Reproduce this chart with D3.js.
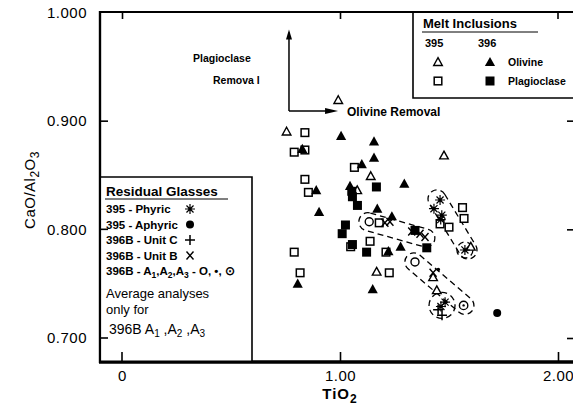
<!DOCTYPE html>
<html><head><meta charset="utf-8">
<script src="https://cdn.jsdelivr.net/npm/d3@7"></script>
<style>body{margin:0;background:#fff}svg{display:block}</style>
</head><body><svg id="c" width="573" height="410"></svg>
<script>
// ---------- data ----------
const xTicks = [0, 1, 2];
const xTickLabels = ["0", "1.00", "2.00"];
const yTicks = [0.7, 0.8, 0.9, 1.0];
const yTickLabels = ["0.700", "0.800", "0.900", "1.000"];

// Melt inclusions [TiO2, CaO/Al2O3]
const mi395Olivine = [[0.755,0.890],[0.992,0.919],[1.141,0.849],[1.079,0.836],[1.477,0.868],[1.168,0.761],[1.600,0.784],[1.427,0.756],[1.444,0.744]];
const mi395Plagioclase = [[0.839,0.889],[0.790,0.871],[0.839,0.873],[0.839,0.846],[0.855,0.834],[1.066,0.857],[0.790,0.779],[0.817,0.760],[1.180,0.806],[1.138,0.789],[1.049,0.784],[1.226,0.760],[1.211,0.779],[1.459,0.805],[1.500,0.802],[1.562,0.820],[1.569,0.810]];
const mi396Olivine = [[1.005,0.886],[1.156,0.881],[0.827,0.874],[1.156,0.866],[1.100,0.860],[1.295,0.842],[0.891,0.836],[1.046,0.840],[0.904,0.816],[1.171,0.819],[1.238,0.812],[1.278,0.784],[1.150,0.745],[0.806,0.750],[1.222,0.780]];
const mi396Plagioclase = [[1.167,0.839],[1.054,0.835],[1.057,0.830],[1.080,0.822],[1.025,0.804],[1.010,0.796],[1.057,0.786],[1.122,0.779],[1.398,0.783],[1.344,0.799]];

// Residual glasses
const rg395Phyric = [[1.459,0.827],[1.431,0.819],[1.467,0.813],[1.462,0.809],[1.573,0.781],[1.482,0.733],[1.463,0.729]];
const rg395Aphyric = [[1.721,0.723]];
const rg396BUnitC = [[1.450,0.726],[1.468,0.721]];
const rg396BUnitB = [[1.206,0.806],[1.229,0.807],[1.329,0.798],[1.367,0.796],[1.390,0.793],[1.427,0.760]];
const rg396BA1 = [[1.134,0.807],[1.344,0.770]];
const rg396BA2 = [[1.451,0.763]];
const rg396BA3 = [[1.567,0.730]];

// Dashed enclosures (data endpoints) and circles
const enclosures = [[[1.128,0.807],[1.394,0.792]],[[1.445,0.828],[1.587,0.781]],[[1.339,0.770],[1.573,0.730]]];
const encCircles = [[1.468,0.730],[1.573,0.781]];

// Removal vectors (data)
const vecOrigin = [0.766, 0.909];
const vecPlag = [0.766, 0.983];
const vecOl = [0.982, 0.909];

// ---------- drawing ----------
const svg = d3.select("#c");
const x = d3.scaleLinear().domain([0, 2]).range([122, 558]);
const y = d3.scaleLinear().domain([0.7, 1.0]).range([338, 12]);
const L = 100, R = 575, T = 12, B = 362;
const FONT = "'Liberation Sans', Arial, Helvetica, sans-serif";

svg.append("rect").attr("width",573).attr("height",410).attr("fill","#fff");

// frame
const fr = svg.append("g").attr("stroke","#000").attr("fill","none");
fr.append("line").attr("x1",L).attr("x2",L).attr("y1",T-1).attr("y2",B+1).attr("stroke-width",2.2);
fr.append("line").attr("x1",L-1).attr("x2",R).attr("y1",T).attr("y2",T).attr("stroke-width",2);
fr.append("line").attr("x1",L-1).attr("x2",R).attr("y1",B).attr("y2",B).attr("stroke-width",2.8);
fr.append("line").attr("x1",R).attr("x2",R).attr("y1",T).attr("y2",B).attr("stroke-width",2);

// axes
const yl = svg.append("g").attr("transform",`translate(${L},0)`)
  .call(d3.axisLeft(y).tickValues(yTicks.filter(v=>v<1)).tickSize(-8).tickPadding(13)
    .tickFormat(d=>yTickLabels[yTicks.indexOf(d)]));
const yr = svg.append("g").attr("transform",`translate(${R},0)`)
  .call(d3.axisRight(y).tickValues(yTicks.filter(v=>v<1)).tickSize(-8).tickFormat(""));
const xb = svg.append("g").attr("transform",`translate(0,${B})`)
  .call(d3.axisBottom(x).tickValues(xTicks).tickSize(-10).tickPadding(8)
    .tickFormat((d,i)=>xTickLabels[i]));
const xt = svg.append("g").attr("transform",`translate(0,${T})`)
  .call(d3.axisTop(x).tickValues(xTicks).tickSize(-7).tickFormat(""));
[yl,yr,xb,xt].forEach(g=>{
  g.select(".domain").remove();
  g.selectAll("line").attr("stroke","#000").attr("stroke-width",1.6);
  g.selectAll("text").attr("font-family",FONT).attr("font-size",15).attr("fill","#000").attr("letter-spacing",0.5);
});
svg.append("text").attr("x",L-13).attr("y",y(1.0)).attr("dy","0.38em").attr("text-anchor","end")
  .attr("font-family",FONT).attr("font-size",15).attr("letter-spacing",0.5).text(yTickLabels[3]);

// axis titles
const yt = svg.append("text").attr("transform","translate(35,190) rotate(-90)").attr("text-anchor","middle")
  .attr("font-family",FONT).attr("font-size",15).attr("letter-spacing",0.5);
yt.append("tspan").text("CaO/Al");
yt.append("tspan").attr("dy",4).attr("font-size",12).text("2");
yt.append("tspan").attr("dy",-4).text("O");
yt.append("tspan").attr("dy",4).attr("font-size",12).text("3");
const xtl = svg.append("text").attr("x",340).attr("y",399).attr("text-anchor","middle")
  .attr("font-family",FONT).attr("font-size",15).attr("font-weight","bold").attr("letter-spacing",1);
xtl.append("tspan").text("TiO");
xtl.append("tspan").attr("dy",4).attr("font-size",12).text("2");

// ---------- symbol painters ----------
function triPath(cx,cy,r){return `M${cx},${cy-r}L${cx+r*1.0},${cy+r*0.8}L${cx-r*1.0},${cy+r*0.8}Z`;}
function drawSym(g,type,cx,cy){
  switch(type){
    case "triOpen": g.append("path").attr("d",triPath(cx,cy,4.3)).attr("fill","#fff").attr("stroke","#000").attr("stroke-width",1.4); break;
    case "triFill": g.append("path").attr("d",triPath(cx,cy,5.1)).attr("fill","#000"); break;
    case "sqOpen": g.append("rect").attr("x",cx-3.8).attr("y",cy-3.8).attr("width",7.6).attr("height",7.6).attr("fill","#fff").attr("stroke","#000").attr("stroke-width",1.5); break;
    case "sqFill": g.append("rect").attr("x",cx-4.5).attr("y",cy-4.5).attr("width",9).attr("height",9).attr("fill","#000"); break;
    case "star": {
      const p = d3.range(4).map(i=>{const a=i*Math.PI/4; return `M${cx-5*Math.cos(a)},${cy-5*Math.sin(a)}L${cx+5*Math.cos(a)},${cy+5*Math.sin(a)}`;}).join("");
      g.append("path").attr("d",p).attr("stroke","#000").attr("stroke-width",1.2);
      g.append("circle").attr("cx",cx).attr("cy",cy).attr("r",1.6).attr("fill","#000"); break;}
    case "dot": g.append("circle").attr("cx",cx).attr("cy",cy).attr("r",4).attr("fill","#000"); break;
    case "plus": g.append("path").attr("d",`M${cx-5},${cy}H${cx+5}M${cx},${cy-5}V${cy+5}`).attr("stroke","#000").attr("stroke-width",1.5); break;
    case "cross": g.append("path").attr("d",`M${cx-3.5},${cy-4}L${cx+3.5},${cy+4}M${cx+3.5},${cy-4}L${cx-3.5},${cy+4}`).attr("stroke","#000").attr("stroke-width",1.4); break;
    case "circ": g.append("circle").attr("cx",cx).attr("cy",cy).attr("r",4).attr("fill","#fff").attr("stroke","#000").attr("stroke-width",1.4); break;
    case "small": g.append("circle").attr("cx",cx).attr("cy",cy).attr("r",1.8).attr("fill","#000"); break;
    case "circDot": g.append("circle").attr("cx",cx).attr("cy",cy).attr("r",4.2).attr("fill","#fff").attr("stroke","#000").attr("stroke-width",1.4);
      g.append("circle").attr("cx",cx).attr("cy",cy).attr("r",1.2).attr("fill","#000"); break;
  }
}

// dashed enclosures
const eg = svg.append("g").attr("fill","none").attr("stroke","#000").attr("stroke-width",1.3).attr("stroke-dasharray","6,4");
enclosures.forEach(([a,b])=>{
  const x1=x(a[0]),y1=y(a[1]),x2=x(b[0]),y2=y(b[1]);
  const dx=x2-x1, dy=y2-y1, len=Math.hypot(dx,dy), ang=Math.atan2(dy,dx)*180/Math.PI;
  const hw=9;
  eg.append("rect").attr("x",-len/2-hw).attr("y",-hw).attr("width",len+2*hw).attr("height",2*hw).attr("rx",hw).attr("ry",hw)
    .attr("transform",`translate(${(x1+x2)/2},${(y1+y2)/2}) rotate(${ang})`);
});
eg.selectAll("circle.e").data(encCircles).join("circle").attr("cx",d=>x(d[0])).attr("cy",d=>y(d[1])).attr("r",(d,i)=>i===0?13:8);

// data marks
const mg = svg.append("g");
const series = [
  [mi395Plagioclase,"sqOpen"],[mi395Olivine,"triOpen"],[mi396Plagioclase,"sqFill"],[mi396Olivine,"triFill"],
  [rg396BA1,"circ"],[rg396BA2,"small"],[rg396BA3,"circDot"],[rg396BUnitB,"cross"],[rg396BUnitC,"plus"],
  [rg395Phyric,"star"],[rg395Aphyric,"dot"]
];
series.forEach(([arr,t])=>arr.forEach(d=>drawSym(mg,t,x(d[0]),y(d[1]))));

// removal vectors
const ag = svg.append("g").attr("stroke","#000").attr("stroke-width",1.5).attr("fill","none");
const ox=x(vecOrigin[0]), oy=y(vecOrigin[1]);
ag.append("line").attr("x1",ox).attr("y1",oy).attr("x2",x(vecPlag[0])).attr("y2",y(vecPlag[1])+2);
ag.append("line").attr("x1",ox).attr("y1",oy).attr("x2",x(vecOl[0])-2).attr("y2",y(vecOl[1]));
svg.append("path").attr("d",`M${x(vecPlag[0])},${y(vecPlag[1])-1}l-3,10l6,0z`).attr("fill","#000");
svg.append("path").attr("d",`M${x(vecOl[0])+2},${y(vecOl[1])}l-13,-3l0,6z`).attr("fill","#000");

const tb = {"font-family":FONT,"font-weight":"bold","font-size":11.5};
function txt(g,xp,yp,s,o={}){const t=g.append("text").attr("x",xp).attr("y",yp);Object.entries({...tb,...o}).forEach(([k,v])=>t.attr(k,v));if(s!==null)t.text(s);return t;}
txt(svg,193,62,"Plagioclase",{"font-size":10.5});
txt(svg,213,84,"Remova l",{"font-size":10.5});
txt(svg,347,116,"Olivine  Removal",{"font-size":12});

// Melt inclusions legend
const mlg = svg.append("g");
mlg.append("rect").attr("x",413).attr("y",T).attr("width",R-413).attr("height",98-T).attr("fill","#fff");
mlg.append("path").attr("d",`M413,${T}V98H${R}`).attr("fill","none").attr("stroke","#000").attr("stroke-width",1.6);
svg.append("line").attr("x1",413).attr("x2",R).attr("y1",T).attr("y2",T).attr("stroke","#000").attr("stroke-width",2);
svg.append("line").attr("x1",x(2)).attr("x2",x(2)).attr("y1",T).attr("y2",T+7).attr("stroke","#000").attr("stroke-width",1.6);
txt(mlg,423,28,"Melt  Inclusions",{"font-size":13});
mlg.append("line").attr("x1",422).attr("x2",538).attr("y1",32).attr("y2",32).attr("stroke","#000").attr("stroke-width",1);
txt(mlg,425,47,"395",{"font-size":11});
txt(mlg,478,47,"396",{"font-size":11});
drawSym(mlg,"triOpen",438,62); drawSym(mlg,"triFill",490,62);
txt(mlg,508,66,"Olivine",{"font-size":10.5});
drawSym(mlg,"sqOpen",438,81); drawSym(mlg,"sqFill",490,81);
txt(mlg,508,85,"Plagioclase",{"font-size":10.5});

// Residual glasses legend
const rlg = svg.append("g");
rlg.append("rect").attr("x",L+1).attr("y",177).attr("width",252-L-1).attr("height",B-177-1).attr("fill","#fff");
rlg.append("path").attr("d",`M${L},177H252V${B}`).attr("fill","none").attr("stroke","#000").attr("stroke-width",1.6);
txt(rlg,106,196,"Residual  Glasses",{"font-size":13.5});
rlg.append("line").attr("x1",105).attr("x2",228).attr("y1",199).attr("y2",199).attr("stroke","#000").attr("stroke-width",1);
const rows = [["395 - Phyric","star"],["395 - Aphyric","dot"],["396B - Unit C","plus"],["396B - Unit B","cross"]];
rows.forEach(([s,t],i)=>{const yy=213+i*15.5; txt(rlg,106,yy,s,{"font-size":11.5}); drawSym(rlg,t,190,yy-4);});
const r5 = txt(rlg,106,275,null,{"font-size":11.5});
r5.append("tspan").text("396B - A");
r5.append("tspan").attr("dy",3).attr("font-size",8.5).text("1");
r5.append("tspan").attr("dy",-3).text(",A");
r5.append("tspan").attr("dy",3).attr("font-size",8.5).text("2");
r5.append("tspan").attr("dy",-3).text(",A");
r5.append("tspan").attr("dy",3).attr("font-size",8.5).text("3");
r5.append("tspan").attr("dy",-3).text(" - O, \u2022, \u2299");
txt(rlg,106,298,"Average  analyses",{"font-size":13,"font-weight":"normal"});
txt(rlg,106,314,"only  for",{"font-size":13,"font-weight":"normal"});
const r8 = txt(rlg,109,334,null,{"font-size":14,"font-weight":"normal"});
r8.append("tspan").text("396B   A");
r8.append("tspan").attr("dy",3).attr("font-size",10).text("1");
r8.append("tspan").attr("dy",-3).text(" ,A");
r8.append("tspan").attr("dy",3).attr("font-size",10).text("2");
r8.append("tspan").attr("dy",-3).text(" ,A");
r8.append("tspan").attr("dy",3).attr("font-size",10).text("3");
// redraw frame lines over legends
svg.append("line").attr("x1",L).attr("x2",L).attr("y1",T-1).attr("y2",B+1).attr("stroke","#000").attr("stroke-width",2.2);
svg.append("line").attr("x1",L-1).attr("x2",R).attr("y1",B).attr("y2",B).attr("stroke","#000").attr("stroke-width",2.8);
svg.append("line").attr("x1",L).attr("x2",L+8).attr("y1",y(0.7)).attr("y2",y(0.7)).attr("stroke","#000").attr("stroke-width",1.6);
svg.append("line").attr("x1",L).attr("x2",L+8).attr("y1",y(0.8)).attr("y2",y(0.8)).attr("stroke","#000").attr("stroke-width",1.6);
svg.append("line").attr("x1",x(0)).attr("x2",x(0)).attr("y1",B).attr("y2",B-10).attr("stroke","#000").attr("stroke-width",1.6);
</script></body></html>
